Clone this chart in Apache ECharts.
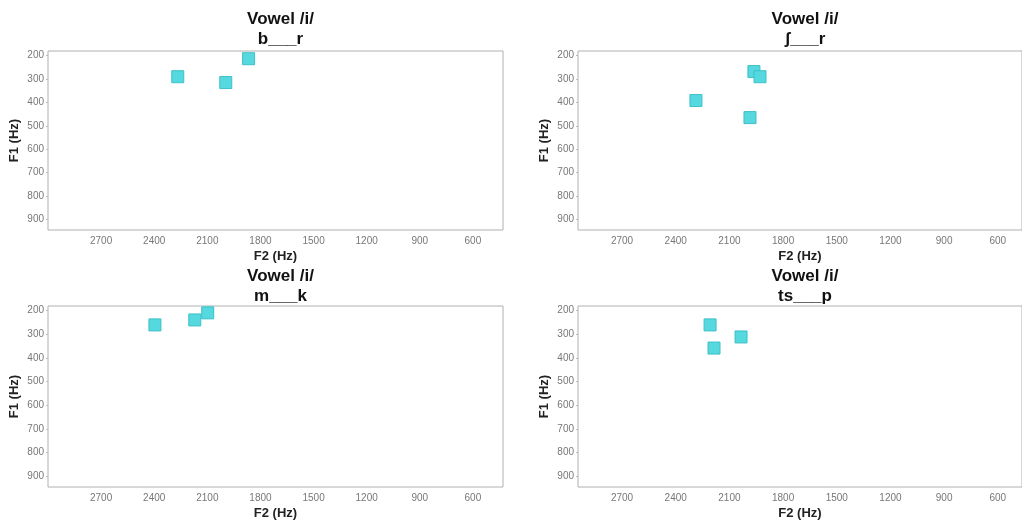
<!DOCTYPE html>
<html>
<head>
<meta charset="utf-8">
<script src="https://cdn.jsdelivr.net/npm/echarts@6/dist/echarts.min.js"></script>
<style>
html,body{margin:0;padding:0;background:#fff;}
#chart{width:1022px;height:521px;}
</style>
</head>
<body>
<div id="chart"></div>
<script>
// ---- data ----
const panelTitles = ["Vowel /i/\nb___r", "Vowel /i/\nʃ___r", "Vowel /i/\nm___k", "Vowel /i/\nts___p"];
const f2Ticks = [2700, 2400, 2100, 1800, 1500, 1200, 900, 600];
const f1Ticks = [200, 300, 400, 500, 600, 700, 800, 900];
// [F2, F1] pairs per panel
const dataBR  = [[2267, 290], [1996, 315], [1867, 213]];
const dataShR = [[1963, 268], [1929, 290], [2287, 392], [1985, 465]];
const dataMK  = [[2396, 260], [2171, 239], [2098, 209]];
const dataTsP = [[2208, 260], [2035, 311], [2186, 358]];
const panelData = [dataBR, dataShR, dataMK, dataTsP];

// ---- layout ----
const grids = [
  {left: 48, top: 51, width: 455, height: 179, xmin: 430, xmax: 3000},
  {left: 578, top: 51, width: 444, height: 179, xmin: 465, xmax: 2946},
  {left: 48, top: 306, width: 455, height: 181, xmin: 430, xmax: 3000},
  {left: 578, top: 306, width: 444, height: 181, xmin: 465, xmax: 2946}
];
const titleTops = [4, 4, 261, 261];
const FONT = "'Liberation Sans', Arial, 'DejaVu Sans', sans-serif";

const option = {
  backgroundColor: '#fff',
  animation: false,
  title: panelTitles.map((t, i) => ({
    text: t,
    left: grids[i].left + grids[i].width / 2,
    top: titleTops[i],
    textAlign: 'center',
    textStyle: {fontFamily: FONT, fontSize: 17, fontWeight: 'bold', color: '#111', lineHeight: 20}
  })),
  grid: grids.map(g => ({
    left: g.left, top: g.top, width: g.width, height: g.height,
    show: true, borderColor: '#b0b0b0', borderWidth: 1, backgroundColor: '#fff'
  })),
  xAxis: grids.map((g, i) => ({
    type: 'value', gridIndex: i, inverse: true, min: g.xmin, max: g.xmax,
    name: 'F2 (Hz)', nameLocation: 'middle', nameGap: 20,
    nameTextStyle: {fontFamily: FONT, fontSize: 13, fontWeight: 'bold', color: '#222'},
    axisLine: {show: false},
    splitLine: {show: false},
    axisTick: {show: false},
    axisLabel: {customValues: f2Ticks, formatter: v => String(v), fontFamily: FONT, fontSize: 10, color: '#777', margin: 6}
  })),
  yAxis: grids.map((g, i) => ({
    type: 'value', gridIndex: i, inverse: true, min: 180, max: 946,
    name: 'F1 (Hz)', nameLocation: 'middle', nameGap: 27,
    nameTextStyle: {fontFamily: FONT, fontSize: 13, fontWeight: 'bold', color: '#222'},
    axisLine: {show: false},
    splitLine: {show: false},
    axisTick: {show: true, customValues: f1Ticks, length: 2, lineStyle: {color: '#bbb'}},
    axisLabel: {customValues: f1Ticks, formatter: v => String(v), fontFamily: FONT, fontSize: 10, color: '#777', margin: 4}
  })),
  series: panelData.map((d, i) => ({
    type: 'scatter', xAxisIndex: i, yAxisIndex: i,
    data: d, symbol: 'rect', symbolSize: 12,
    itemStyle: {color: '#55d9de', borderColor: '#3cc0c8', borderWidth: 1, opacity: 1}
  }))
};

const chart = echarts.init(document.getElementById('chart'), null, {renderer: 'canvas'});
chart.setOption(option);
</script>
</body>
</html>
